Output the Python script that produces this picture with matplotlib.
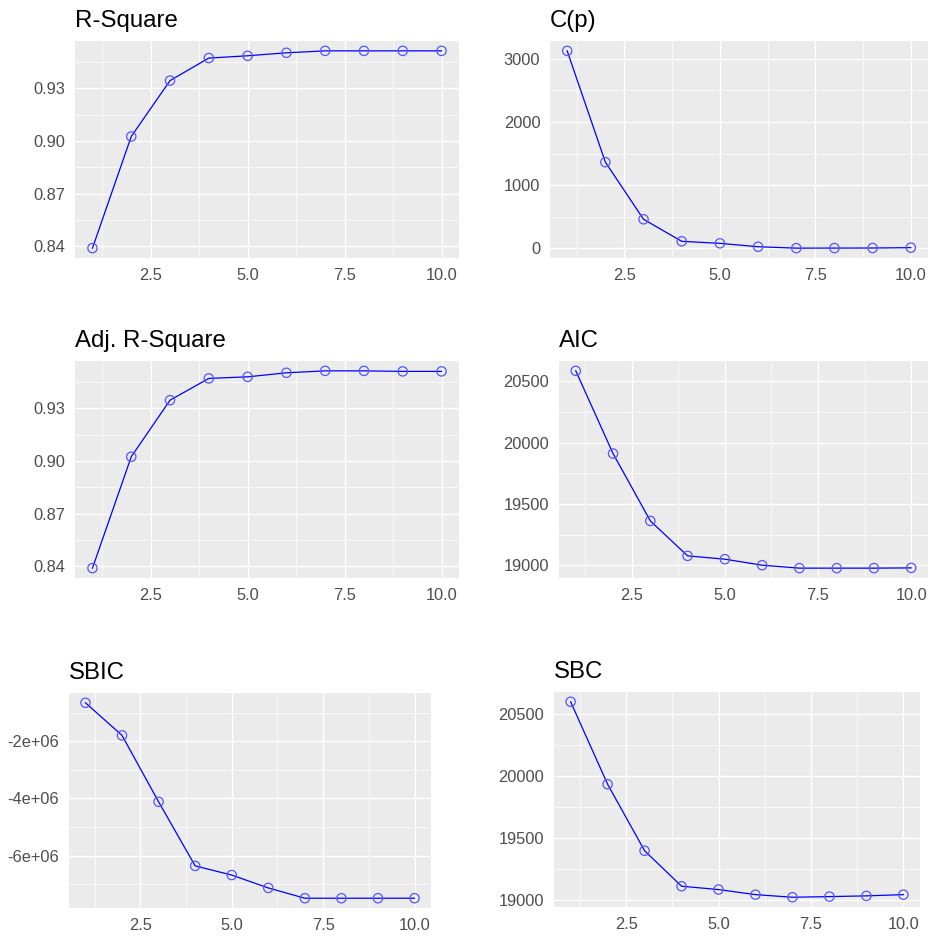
import numpy as np
import matplotlib
matplotlib.use("Agg")
import matplotlib.pyplot as plt
from matplotlib.ticker import FixedLocator, FuncFormatter

plt.rcParams['font.family'] = ['Liberation Sans', 'DejaVu Sans']

# number of predictors in the model
n_pred = np.arange(1, 11)

rsquare = [0.8390, 0.9025, 0.9343, 0.9471, 0.9484, 0.9501, 0.9512, 0.9512, 0.9512, 0.9512]
adj_rsquare = [0.8390, 0.9024, 0.9346, 0.9470, 0.9479, 0.9502, 0.9513, 0.9513, 0.9510, 0.9510]
cp = [3127, 1364, 460, 111, 79, 25, 3, 4, 5, 11]
aic = [20584, 19910, 19361, 19076, 19049, 19000, 18976, 18976, 18976, 18978]
sbic = [-0.66e6, -1.80e6, -4.12e6, -6.36e6, -6.68e6, -7.13e6, -7.49e6, -7.49e6, -7.49e6, -7.49e6]
sbc = [20600, 19933, 19395, 19108, 19081, 19040, 19019, 19024, 19030, 19040]

x_major = [2.5, 5.0, 7.5, 10.0]
x_minor = [1.25, 3.75, 6.25, 8.75]

# (title, values, major y ticks, minor y ticks, formatter, panel box in px: left, top, right, bottom)
panels = [
    ("R-Square", rsquare, [0.84, 0.87, 0.90, 0.93], [0.855, 0.885, 0.915, 0.945],
     lambda v, p: f"{v:.2f}", (75, 41, 459, 258)),
    ("C(p)", cp, [0, 1000, 2000, 3000], [500, 1500, 2500],
     lambda v, p: f"{v:.0f}", (550, 41, 928, 258)),
    ("Adj. R-Square", adj_rsquare, [0.84, 0.87, 0.90, 0.93], [0.855, 0.885, 0.915, 0.945],
     lambda v, p: f"{v:.2f}", (75, 361, 459, 578)),
    ("AIC", aic, [19000, 19500, 20000, 20500], [19250, 19750, 20250],
     lambda v, p: f"{v:.0f}", (559, 361, 928, 578)),
    ("SBIC", sbic, [-6e6, -4e6, -2e6], [-7e6, -5e6, -3e6, -1e6],
     lambda v, p: f"{int(v/1e6)}e+06", (69, 693, 431, 908)),
    ("SBC", sbc, [19000, 19500, 20000, 20500], [19250, 19750, 20250],
     lambda v, p: f"{v:.0f}", (554, 692, 920, 907)),
]

W, H = 929, 936
fig = plt.figure(figsize=(W / 100, H / 100), dpi=100)

for title, vals, ymaj, ymin, fmt, (l, t, r, b) in panels:
    ax = fig.add_axes([l / W, 1 - b / H, (r - l) / W, (b - t) / H])
    ax.set_facecolor("#EBEBEB")
    ax.plot(n_pred, vals, color="blue", linewidth=0.9, zorder=3)
    ax.scatter(n_pred, vals, s=45, facecolors="none", edgecolors="#5555ff",
               linewidths=0.9, zorder=4)
    ax.margins(x=0.05, y=0.05)

    ax.xaxis.set_major_locator(FixedLocator(x_major))
    ax.xaxis.set_minor_locator(FixedLocator(x_minor))
    ax.yaxis.set_major_locator(FixedLocator(ymaj))
    ax.yaxis.set_minor_locator(FixedLocator(ymin))
    ax.xaxis.set_major_formatter(FuncFormatter(lambda v, p: f"{v:.1f}"))
    ax.yaxis.set_major_formatter(FuncFormatter(fmt))

    ax.grid(which="major", color="white", linewidth=1.0)
    ax.grid(which="minor", color="white", linewidth=0.5)
    ax.set_axisbelow(True)
    ax.tick_params(which="both", length=0, labelsize=11.8, labelcolor="#4D4D4D")
    ax.tick_params(axis="y", pad=7)
    ax.tick_params(axis="x", pad=7.5)
    for s in ax.spines.values():
        s.set_visible(False)

    ax.set_title(title, loc="left", fontsize=17.3, color="black", pad=10)

fig.savefig("out.png", dpi=100)
